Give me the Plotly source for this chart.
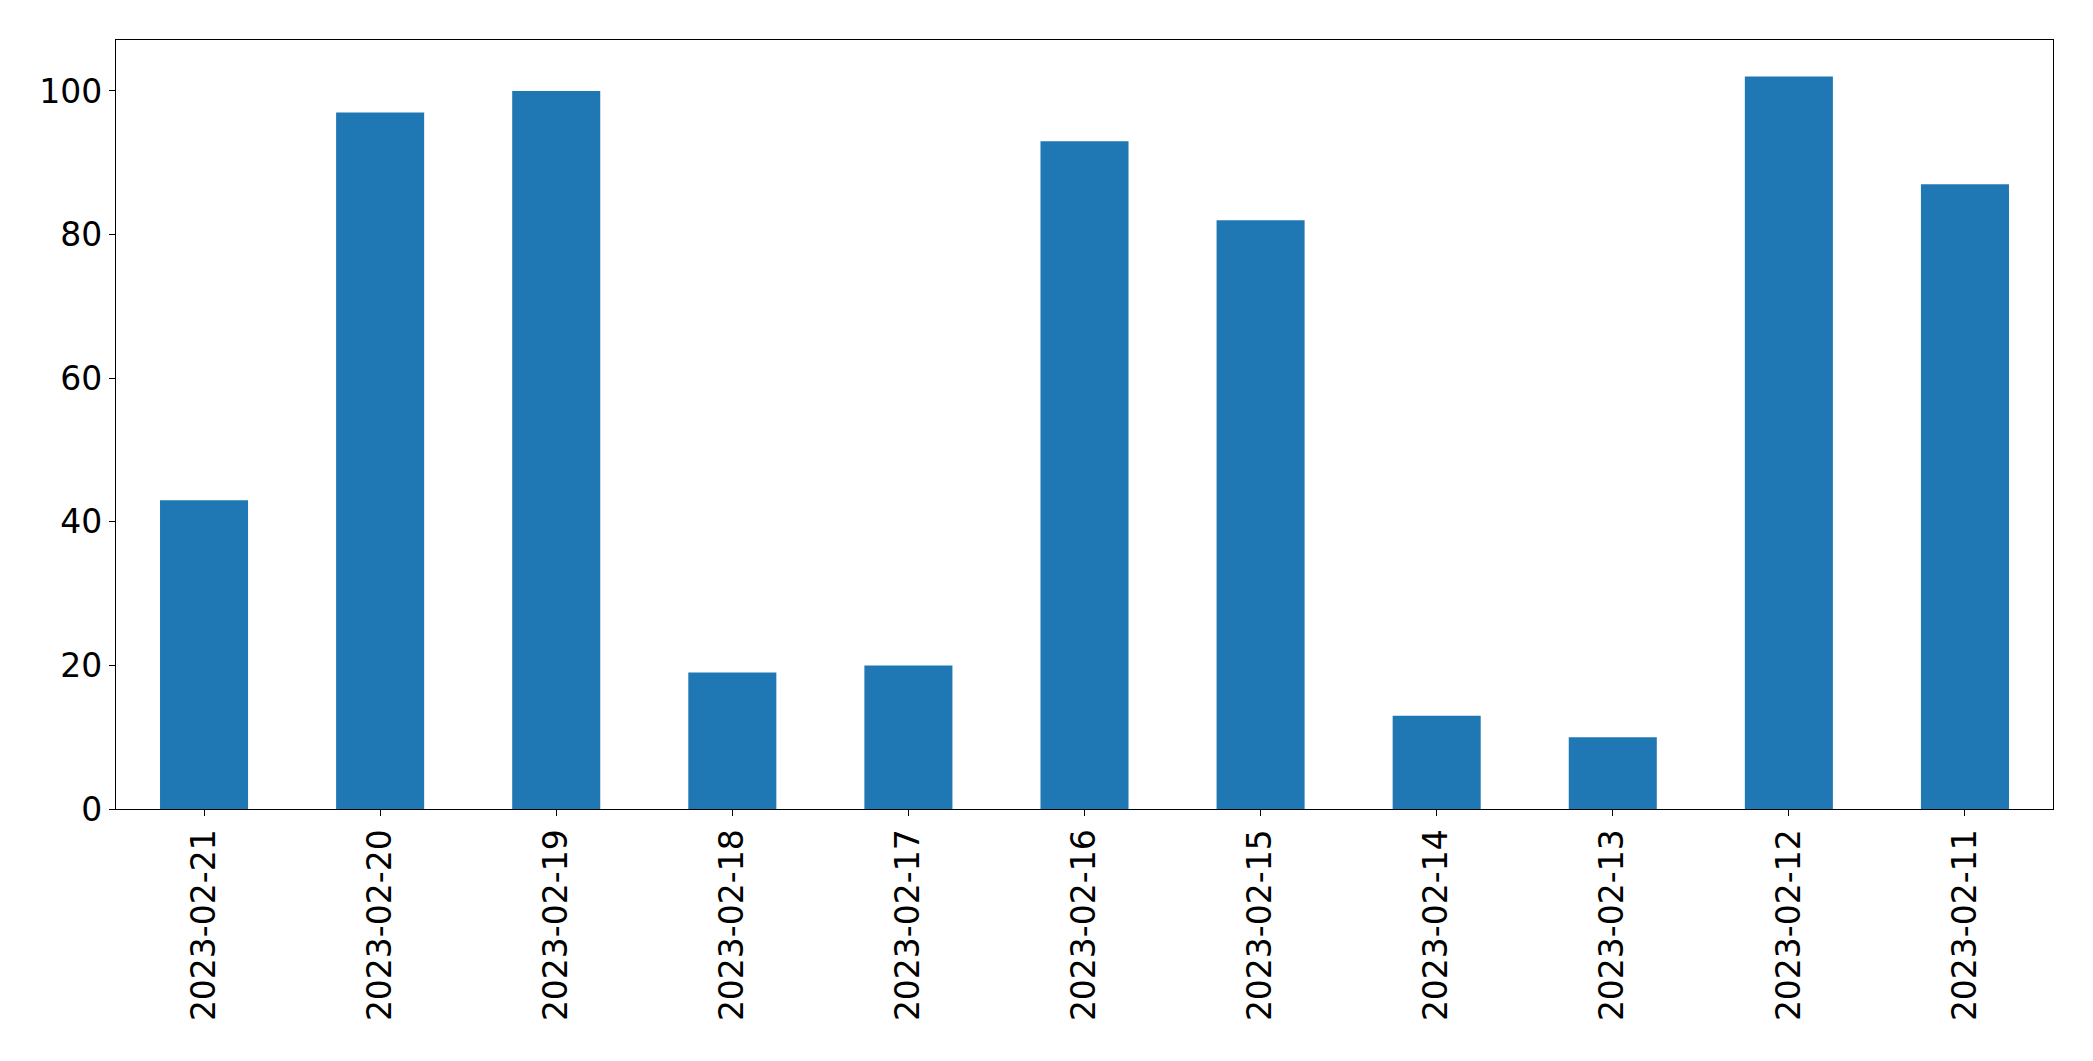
import plotly.graph_objects as go

# daily counts, newest first (as in the source table)
dates = ["2023-02-21", "2023-02-20", "2023-02-19", "2023-02-18", "2023-02-17", "2023-02-16",
         "2023-02-15", "2023-02-14", "2023-02-13", "2023-02-12", "2023-02-11"]
counts = [43, 97, 100, 19, 20, 93, 82, 13, 10, 102, 87]

y_ticks = [0, 20, 40, 60, 80, 100]

fig = go.Figure()
fig.add_trace(go.Bar(x=dates, y=counts, marker={"color": "#1f77b4", "line": {"width": 0}}))

# page body adds ~8px offset, so the figure is a bit smaller than the window
fig.update_layout(
    width=2077,
    height=1045,
    margin={"l": 108, "r": 32, "t": 32, "b": 244},
    plot_bgcolor="white",
    paper_bgcolor="white",
    bargap=0.5,
    showlegend=False,
    font={"family": "DejaVu Sans", "size": 33, "color": "black"},
)
fig.update_xaxes(
    type="category",
    range=[-0.5, len(dates) - 0.5],
    tickangle=-90,
    showline=True, linecolor="black", linewidth=1.3, mirror=True,
    ticks="outside", ticklen=6, tickwidth=1.3, tickcolor="black",
    showgrid=False,
)
fig.update_yaxes(
    range=[0, max(counts) * 1.05],
    tickvals=y_ticks,
    showline=True, linecolor="black", linewidth=1.3, mirror=True,
    ticks="outside", ticklen=6, tickwidth=1.3, tickcolor="black",
    showgrid=False, zeroline=False,
)

fig.write_html("out.html")
